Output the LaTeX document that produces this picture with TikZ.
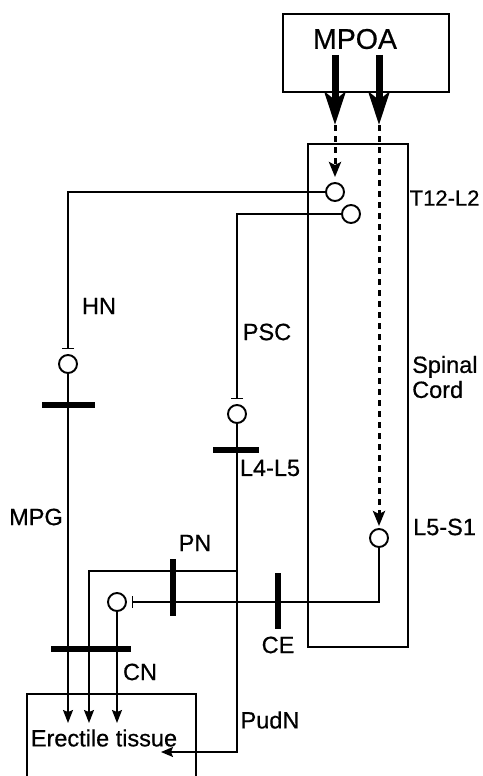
\documentclass[tikz,border=0pt]{standalone}
\usepackage{fontspec}
\setmainfont{Liberation Sans}
\usepackage{tikz}
\usetikzlibrary{arrows.meta, positioning}
\tikzset{
  area/.style    ={draw, rectangle, inner sep=0pt, line width=1.2pt},
  cell/.style    ={draw, circle, minimum size=18pt, inner sep=0pt, line width=1.9pt, fill=white},
  hbar/.style    ={fill=black, rectangle, inner sep=0pt, minimum height=6.5pt},
  vbar/.style    ={fill=black, rectangle, inner sep=0pt, minimum width=6.5pt},
  nerve/.style   ={line width=1.5pt},
  stop/.style    ={nerve, -{Bar[width=12pt, line width=1.3pt]}},                    % ends short of a cell
  tonerve/.style ={nerve, -{Stealth[length=13pt, width=10pt, inset=2pt]}},         % into the tissue
  descend/.style ={-{Stealth[length=33pt, width=21pt, inset=8pt]}, line width=7pt}, % from MPOA
  relay/.style   ={-{Stealth[length=15pt, width=12pt, inset=3pt]}, line width=3pt, dash pattern=on 6pt off 5pt},
  lbl/.style     ={font=\fontsize{23.5}{25}\selectfont\addfontfeature{FakeBold=0.6}, inner sep=0pt},
  big/.style     ={font=\fontsize{28.5}{30}\selectfont\addfontfeature{FakeBold=0.6}, inner sep=0pt},
}

\begin{document}
\begin{tikzpicture}[x=1pt, y=-1pt]
  \clip (0,0) rectangle (482,776);

  % boxes
  \node[area, minimum width=166pt, minimum height=78pt]  (mpoa)  at (366,53)    {};
  \node[big] (mpoatxt) at (355,39) {MPOA};
  \node[area, minimum width=100pt, minimum height=503pt] (cord)  at (358,395.5) {};
  \node[area, minimum width=169pt, minimum height=110pt] (penis) at (111.5,749) {};

  % cells
  \node[cell] (c1) at (335,192) {};
  \node[cell] (c2) at (351,214) {};
  \node[cell] (hc) at (68,364)  {};
  \node[cell] (pc) at (237,414) {};
  \node[cell] (sc) at (379,538) {};
  \node[cell] (pg) at (117,602) {};

  \coordinate (m1)  at (335,125);
  \coordinate (m2)  at (379,125);
  \coordinate (t1)  at (68,723);
  \coordinate (t2)  at (89,723);
  \coordinate (t3)  at (117,723);
  \coordinate (pnb) at (237,571);
  \coordinate (pud) at (161,752);

  % descending input
  \draw[descend] (335,55) -- (m1);
  \draw[descend] (379,55) -- (m2);
  \draw[relay, shorten >=5pt] (m1) -- (c1.north);
  \draw[relay, shorten >=2pt] (m2) -- (sc.north);

  % sympathetic (HN) and PSC
  \draw[stop] (c1.west) -| ([yshift=5pt]hc.north);
  \draw[stop] (c2.west) -| ([yshift=5pt]pc.north);
  \draw[tonerve] (hc.south) -- (t1);
  \draw[nerve, -{Stealth[length=12pt, width=10pt, inset=2pt]}] (pc.south) |- (pud);

  % parasympathetic (PN)
  \draw[stop] (sc.south) |- ([xshift=5pt]pg.east);
  \draw[tonerve] (pnb) -| (t2);
  \draw[tonerve] (pg.south) -- (t3);

  % ganglia and cuts
  \node[hbar, minimum width=53pt] (mpg) at (68.5,405) {};
  \node[hbar, minimum width=46pt] (l45) at (235.5,450) {};
  \node[hbar, minimum width=80pt] (cn)  at (91,649) {};
  \node[vbar, minimum height=57pt] (pn) at (173,587.5) {};
  \node[vbar, minimum height=56pt] (ce) at (278,601) {};

  % labels
  \node[lbl, anchor=west, font=\fontsize{22}{24}\selectfont\addfontfeature{FakeBold=0.6}] (t12) at (409.5,198) {T12-L2};
  \node[lbl] (hnl)  at (99,306)  {HN};
  \node[lbl] (pscl) at (267,332) {PSC};
  \node[lbl, anchor=west, align=left] (cordl) at (412,377) {Spinal\\Cord};
  \node[lbl] (l45l) at (270,468) {L4-L5};
  \node[lbl] (mpgl) at (36,517)  {MPG};
  \node[lbl, anchor=west] (l5s1) at (413,527) {L5-S1};
  \node[lbl] (pnl)  at (195,543) {PN};
  \node[lbl] (cel)  at (278,645) {CE};
  \node[lbl] (cnl)  at (140,672) {CN};
  \node[lbl] (pudl) at (270,720) {PudN};
  \node[lbl] (etl)  at (104,738) {Erectile tissue};
\end{tikzpicture}
\end{document}
